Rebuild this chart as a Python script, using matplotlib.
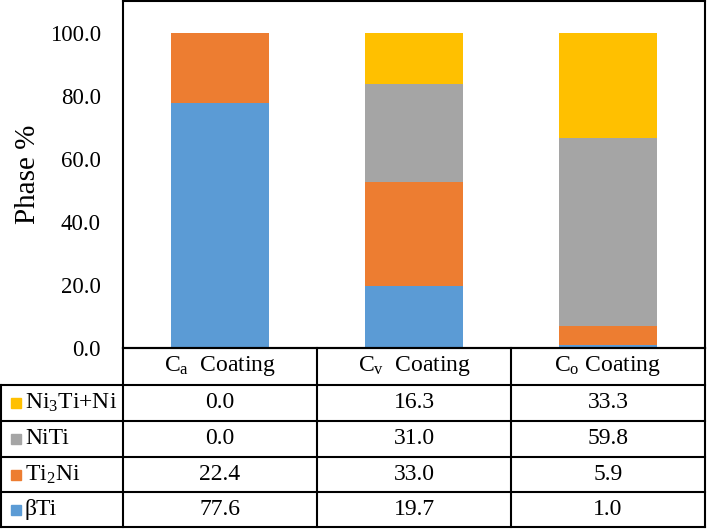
import numpy as np
import matplotlib.pyplot as plt

plt.rcParams['font.family'] = ['Liberation Serif', 'DejaVu Serif']
plt.rcParams['mathtext.fontset'] = 'custom'
plt.rcParams['mathtext.rm'] = 'Liberation Serif'
plt.rcParams['mathtext.it'] = 'Liberation Serif:italic'

# ---- data ----
coatings = [r'C$_\mathrm{a}$  Coating', r'C$_\mathrm{v}$  Coating', r'C$_\mathrm{o}$ Coating']
phases = ['βTi', r'Ti$_\mathrm{2}$Ni', 'NiTi', r'Ni$_\mathrm{3}$Ti+Ni']
beta_ti = [77.6, 19.7, 1.0]
ti2ni = [22.4, 33.0, 5.9]
niti = [0.0, 31.0, 59.8]
ni3ti = [0.0, 16.3, 33.3]
colors = ['#5B9BD5', '#ED7D31', '#A5A5A5', '#FFC000']

series = [beta_ti, ti2ni, niti, ni3ti]

W, H = 708, 530
fig = plt.figure(figsize=(W / 100, H / 100), dpi=100)

# chart area (pixel geometry)
x0, x1 = 123, 705
ytop, ybot = 1, 348
ax = fig.add_axes([x0 / W, (H - ybot) / H, (x1 - x0) / W, (ybot - ytop) / H])

x = np.arange(len(coatings))
bottom = np.zeros(len(coatings))
for vals, c in zip(series, colors):
    ax.bar(x, vals, bottom=bottom, width=0.51, color=c, zorder=2)
    bottom += np.array(vals)

ax.set_xlim(-0.5, len(coatings) - 0.5)
ax.set_ylim(0, 110)
ax.set_yticks(np.arange(0, 101, 20))
ax.set_yticklabels([f'{v:.1f}' for v in np.arange(0, 101, 20)], fontsize=16.5)
ax.set_xticks([])
ax.tick_params(axis='y', length=0, pad=16)
for s in ax.spines.values():
    s.set_linewidth(1.5)
    s.set_color('black')
ax.set_ylabel('Phase %', fontsize=21, labelpad=6)

# ---- data table below chart ----
tb = fig.add_axes([0, 0, 1, 1], zorder=3)
tb.set_xlim(0, W)
tb.set_ylim(H, 0)
tb.axis('off')

col_edges = np.linspace(x0, x1, len(coatings) + 1)
row_edges = [348, 385, 421, 457, 492, 527]
lw = 1.5
fs = 17

# header row
tb.plot([x0, x1], [row_edges[0], row_edges[0]], color='black', lw=lw)
for ce in col_edges:
    tb.plot([ce, ce], [row_edges[0], row_edges[-1]], color='black', lw=lw)
for i, name in enumerate(coatings):
    tb.text((col_edges[i] + col_edges[i + 1]) / 2, (row_edges[0] + row_edges[1]) / 2,
            name, ha='center', va='center', fontsize=fs)

# body rows (top row is last series)
tb.plot([1, 1], [row_edges[1], row_edges[-1]], color='black', lw=lw)
for r in range(1, len(row_edges)):
    tb.plot([1, x1], [row_edges[r], row_edges[r]], color='black', lw=lw)

for k, idx in enumerate(range(len(series) - 1, -1, -1)):
    yc = (row_edges[k + 1] + row_edges[k + 2]) / 2
    tb.add_patch(plt.Rectangle((11, yc - 5), 10, 10, color=colors[idx]))
    tb.text(25, yc, phases[idx], ha='left', va='center', fontsize=fs)
    for i in range(len(coatings)):
        tb.text((col_edges[i] + col_edges[i + 1]) / 2, yc, f'{series[idx][i]:.1f}',
                ha='center', va='center', fontsize=fs)

plt.savefig('out.png', dpi=100)
plt.close()
